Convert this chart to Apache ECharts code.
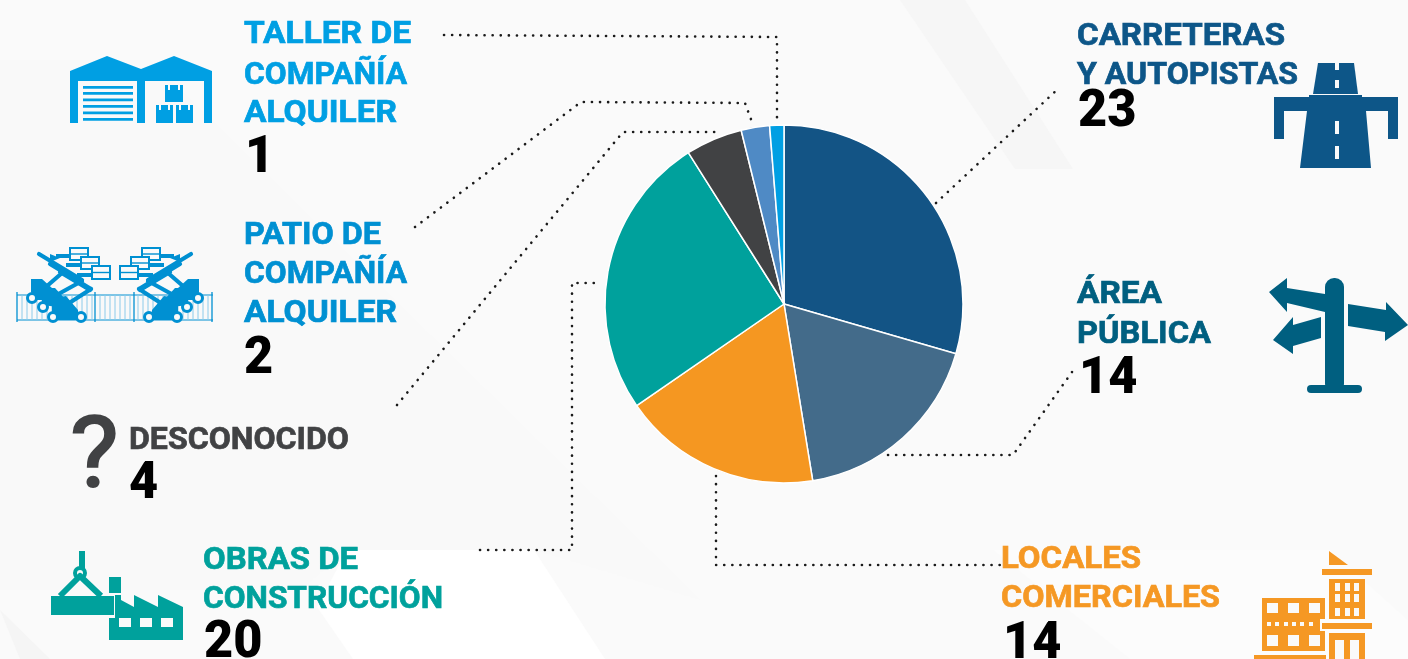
<!DOCTYPE html>
<html><head><meta charset="utf-8">
<style>html,body{margin:0;padding:0;background:#fafafa}#c{width:1408px;height:659px}</style>
<script src="https://cdn.jsdelivr.net/npm/echarts@6/dist/echarts.min.js"></script>
</head><body><div id="c"></div>
<script>
const categories = ["Carreteras y autopistas","Área pública","Locales comerciales","Obras de construcción","Desconocido","Patio de compañía alquiler","Taller de compañía alquiler"];
const values = [23,14,14,20,4,2,1];
const sliceColors = ["#135485","#436b8a","#f59721","#00a19c","#414244","#4f8ac5","#009fe3"];
const labelLines = [["CARRETERAS","Y AUTOPISTAS"],["ÁREA","PÚBLICA"],["LOCALES","COMERCIALES"],["OBRAS DE","CONSTRUCCIÓN"],["DESCONOCIDO"],["PATIO DE","COMPAÑÍA","ALQUILER"],["TALLER DE","COMPAÑÍA","ALQUILER"]];
const labelColors = ["#0d5688","#005f80","#f59824","#00a19c","#414244","#0090d2","#009fe3"];

const FONT='Roboto';
const labelPos=[
 {x:1077,base:[45,84],w:[208,221],vx:1078,vb:127},
 {x:1077,base:[303,343],w:[85,134],vx:1079,vb:394},
 {x:1001,base:[568,607],w:[140,219],vx:1003,vb:659},
 {x:203,base:[569,608],w:[155,240],vx:204,vb:658},
 {x:129,base:[449],w:[220],vx:129,vb:499},
 {x:244,base:[244,283,322],w:[137,163,153],vx:244,vb:374},
 {x:244,base:[43,84,122],w:[167,163,153],vx:245,vb:173}];
const g=[];
const meas=document.createElement('canvas').getContext('2d');
function txt(s,x,base,size,color,weight,sx,sw){
 g.push({type:'text',x:x,y:base-size*0.265,scaleX:sx,z:5,style:{text:s,x:0,y:0,fill:color,stroke:color,lineWidth:sw==null?0.7:sw,font:(weight||700)+' '+size+'px '+FONT,align:'left',verticalAlign:'middle'}});
}
function poly(pts,fill){g.push({type:'polygon',z:3,shape:{points:pts},style:{fill:fill}});}
function rect(x,y,w,h,fill,r){g.push({type:'rect',z:3,shape:{x,y,width:w,height:h,r:r||0},style:{fill:fill}});}
function line(pts,color,w,dash,cap){g.push({type:'polyline',z:3,shape:{points:pts},style:{stroke:color,lineWidth:w,fill:null,lineDash:dash||null,lineCap:cap||'butt',lineJoin:'round'}});}
function ring(x,y,r,color,w,fill){g.push({type:'circle',z:4,shape:{cx:x,cy:y,r:r},style:{stroke:color,lineWidth:w,fill:fill||'none'}});}

// background shapes
g.push({type:'polygon',z:0,silent:true,shape:{points:[[900,0],[965,0],[1073,169],[1015,169]]},style:{fill:'#f6f6f6'}});
g.push({type:'polygon',z:0,silent:true,shape:{points:[[0,60],[150,60],[700,600],[534,550],[347,550],[300,590],[0,590]]},style:{fill:'#f9f9f9'}});
g.push({type:'polygon',z:0,silent:true,shape:{points:[[347,550],[534,550],[605,659],[353,659],[317,607]]},style:{fill:'#ffffff'}});
g.push({type:'polygon',z:0,silent:true,shape:{points:[[0,610],[20,659],[50,659]]},style:{fill:'#f5f5f5'}});
g.push({type:'polygon',z:0,silent:true,shape:{points:[[993,550],[1330,550],[1408,620],[1408,659],[1130,659]]},style:{fill:'#fcfcfc'}});

// leader lines
const leaders=[
 [[444,35],[777,37],[777,122]],
 [[415,227],[581,102],[745,103],[752,122]],
 [[397,405],[623,132],[715,132]],
 [[480,550],[572,550],[572,283],[598,283]],
 [[716,476],[716,565],[1000,565]],
 [[888,455],[1013,455],[1072,372]],
 [[936,203],[1060,87]]];
leaders.forEach(p=>line(p,'#1a1a1a',2.6,[0.1,8],'round'));

// text labels
labelLines.forEach((ls,i)=>{
 const p=labelPos[i];
 ls.forEach((s,j)=>{
  meas.font='700 32px '+FONT;
  txt(s,p.x,p.base[j],32,labelColors[i],700,p.w[j]/meas.measureText(s).width);
 });
 txt(String(values[i]),p.vx,p.vb,52,'#000',900,0.97,0);
});

// warehouse icon
const wc='#009fe3';
poly([[70,71],[107,56],[141,69],[174,56],[212,71],[212,123],[204,123],[204,81],[145,81],[145,123],[137,123],[137,81],[78,81],[78,123],[70,123]],wc);
[86,92,98.5,105,111.5,118].forEach(y=>rect(83,y,50,2.8,wc));
[[165,85,18,17],[156,105,17,18],[176,105,17,18]].forEach(b=>{
 rect(b[0],b[1],b[2],b[3],wc);
 rect(b[0]+3,b[1],2,5,'#fafafa');rect(b[0]+b[2]-5,b[1],2,5,'#fafafa');
});

// scissor-lift and fence icon
const lc='#0090d2';
[295,320].forEach(y=>line([[17,y],[213,y]],lc,1));
const bars=[22,27,32,37,42,47,52,57,62,67,72,77,82,87,92,100,105,110,115,120,125,130,138,143,148,153,158,163,168,173,178,183,188,193,198,203,208];
bars.forEach(x=>line([[x,295],[x,320]],'#8ccbea',1));
[17,95,134,212].forEach(x=>line([[x,292],[x,322]],lc,1.3));
[0,1].forEach(m=>{
 const X=x=>m?230-x:x, pts=a=>a.map(p=>[X(p[0]),p[1]]);
 line(pts([[39,254],[82,280]]),lc,4.2,null,'round');
 line(pts([[50,264],[91,289]]),lc,4.2,null,'round');
 line(pts([[62,273],[47,286]]),lc,4.2,null,'round');
 line(pts([[60,272],[90,290]]),lc,4.2,null,'round');
 line(pts([[82,281],[53,297]]),lc,4.2,null,'round');
 line(pts([[91,289],[63,307]]),lc,4.2,null,'round');
 poly(pts([[50,254],[60,258],[50,262]]),lc);
 line(pts([[56,256],[70,256]]),lc,4);
 line(pts([[66,265],[81,265]]),lc,4);
 line(pts([[77,275],[92,275]]),lc,4);
 poly(pts([[31,292],[31,279],[42,279],[52,288],[52,300],[36,300]]),lc);
 poly(pts([[42,305],[42,288],[55,288],[66,300],[66,308]]),lc);
 poly(pts([[52,316],[52,298],[66,296],[78,310],[78,320],[52,320]]),lc);
 [[70,248,18,12],[81,257,18,12],[92,266,18,13]].forEach(b=>{
  const x=m?230-b[0]-b[2]:b[0];
  g.push({type:'rect',z:4,shape:{x:x,y:b[1],width:b[2],height:b[3]},style:{fill:'#fafafa',stroke:lc,lineWidth:2}});
  line([[x,b[1]+b[3]/2],[x+b[2],b[1]+b[3]/2]],lc,1.4);
  g[g.length-1].z=5;
 });
 [[32,298],[43,307],[53,317],[81,317]].forEach(c=>{ring(X(c[0]),c[1],4.5,lc,3,'#fafafa');});
});

// question mark
g.push({type:'text',x:70,y:461,z:5,scaleX:1.05,style:{text:'?',x:0,y:0,fill:'#414244',stroke:'#414244',lineWidth:2,font:'400 98px '+FONT,align:'left',verticalAlign:'middle'}});

// construction icon
const tc='#00a19c';
rect(79,551,6,17,tc);
ring(80,573,5,tc,4);
line([[60,596],[80,576],[101,596]],tc,6);
rect(51,596,63,19,tc);
rect(109,577,12,16,tc);
poly([[115,595],[121,595],[121,600],[134,607],[134,595],[158,607],[158,595],[183,607],[183,640],[109,640],[109,618],[115,618]],tc);
[119,140,161].forEach(x=>rect(x,618,12,9,'#fafafa'));

// road icon
const rc='#0d5688';
poly([[1318,63],[1354,63],[1358,94],[1313,94]],rc);
poly([[1309,95],[1362,95],[1362,97],[1398,97],[1398,139],[1388,139],[1388,111],[1366,111],[1371,168],[1300,168],[1307,111],[1284,111],[1284,139],[1274,139],[1274,97],[1309,97]],rc);
[[63,7],[80,8],[121,13],[146,13]].forEach(d=>rect(1335,d[0],4,d[1],'#fafafa'));

// signpost icon
const sc='#005f80';
rect(1325,278,19,115,sc,9);
rect(1307,385,55,8,sc,4);
poly([[1269,292],[1287,278],[1287,288],[1325,294],[1325,312],[1287,303],[1287,312]],sc);
poly([[1348,304],[1386,310],[1386,302],[1408,325],[1385,341],[1385,332],[1348,326]],sc);
poly([[1273,340],[1293,317],[1293,325],[1321,317],[1321,338],[1293,346],[1293,354]],sc);

// building icon
const oc='#f59824', bg='#fafafa';
poly([[1329,551],[1348,565],[1329,565]],oc);
rect(1322,569,50,6,oc);
rect(1329,579,36,40,oc);
[584,595,609].forEach(y=>{[1335,1345,1354].forEach(x=>rect(x,y-1,5,8,bg));});
rect(1322,623,50,6,oc);
rect(1329,633,36,26,oc);
[1335,1350].forEach(x=>rect(x,640,9,19,bg));
poly([[1262,598],[1325,598],[1325,619],[1320,619],[1320,631],[1325,631],[1325,651],[1262,651]],oc);
[[603,10],[635,11]].forEach(r=>{[1267,1288,1309].forEach(x=>rect(x,r[0],11,r[1],bg));});
[1267,1275,1284,1292,1300,1309].forEach(x=>rect(x,622,4,4,bg));
rect(1254,655,72,4,oc);

const chart=echarts.init(document.getElementById('c'),null,{renderer:'canvas'});
chart.setOption({
 animation:false,
 backgroundColor:'#fafafa',
 series:[{type:'pie',center:[784,304],radius:[0,179],startAngle:90,clockwise:true,
  label:{show:false},labelLine:{show:false},silent:true,
  itemStyle:{borderColor:'#ffffff',borderWidth:1.5},
  data:categories.map((n,i)=>({name:n,value:values[i],itemStyle:{color:sliceColors[i]}}))}],
 graphic:g
});
</script></body></html>
